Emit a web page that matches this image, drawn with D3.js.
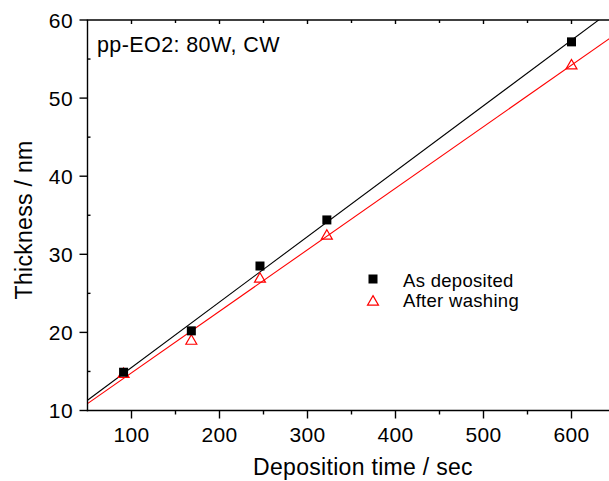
<!DOCTYPE html>
<html>
<head>
<meta charset="utf-8">
<script src="https://cdn.jsdelivr.net/npm/d3@7"></script>
<style>
  html, body { margin: 0; padding: 0; background: #fff; }
  svg { display: block; font-family: "Liberation Sans", Arial, sans-serif; }
  .tick-label { font-size: 21px; letter-spacing: 0.4px; fill: #000; }
  .axis-title { font-size: 23px; letter-spacing: 0.3px; fill: #000; }
  .legend-text { font-size: 18.5px; letter-spacing: 0.3px; fill: #000; }
</style>
</head>
<body>
<svg id="chart" width="609" height="481"></svg>
<script>
// data
const times = [91, 168, 246, 322, 600];
const asDeposited = [14.9, 20.2, 28.5, 34.4, 57.2];
const afterWashing = [14.7, 18.95, 26.9, 32.4, 54.2];
const xTicks = [100, 200, 300, 400, 500, 600];
const yTicks = [10, 20, 30, 40, 50, 60];
const xMinor = [150, 250, 350, 450, 550];
const yMinor = [15, 25, 35, 45, 55];
const seriesNames = ['As deposited', 'After washing'];
const label = 'pp-EO2: 80W, CW';

const svg = d3.select('#chart');
const plotLeft = 87.5, plotTop = 20, plotBottom = 410.5;
const x = d3.scaleLinear().domain([50, 650]).range([plotLeft, plotLeft + 600 * 0.88]);
const y = d3.scaleLinear().domain([10, 60]).range([plotBottom, plotTop]);
const plotRight = x(650);

// least-squares fit, as the original linear fits
function fit(xs, ys) {
  const mx = d3.mean(xs), my = d3.mean(ys);
  let sxy = 0, sxx = 0;
  xs.forEach((v, i) => { sxy += (v - mx) * (ys[i] - my); sxx += (v - mx) ** 2; });
  const slope = sxy / sxx;
  return { slope, icpt: my - slope * mx };
}

svg.append('clipPath').attr('id', 'plot-clip')
  .append('rect').attr('x', plotLeft).attr('y', plotTop)
  .attr('width', plotRight - plotLeft).attr('height', plotBottom - plotTop);

const plot = svg.append('g').attr('clip-path', 'url(#plot-clip)');

[[asDeposited, '#000'], [afterWashing, '#ff0000']].forEach(([vals, color]) => {
  const f = fit(times, vals);
  plot.append('line')
    .attr('x1', x(50)).attr('y1', y(f.icpt + f.slope * 50))
    .attr('x2', x(650)).attr('y2', y(f.icpt + f.slope * 650))
    .attr('stroke', color).attr('stroke-width', 1.1);
});

const tri = d3.symbol().type(d3.symbolTriangle).size(52);

// markers
svg.append('g').selectAll('path')
  .data(times.map((t, i) => [t, afterWashing[i]]))
  .join('path')
  .attr('d', tri)
  .attr('transform', (d) => `translate(${x(d[0])},${y(d[1]) + 0.5})`)
  .attr('fill', 'none').attr('stroke', '#ff0000').attr('stroke-width', 1.2);

svg.append('g').selectAll('rect')
  .data(times.map((t, i) => [t, asDeposited[i]]))
  .join('rect')
  .attr('x', (d) => x(d[0]) - 4.5).attr('y', (d) => y(d[1]) - 4.5)
  .attr('width', 9).attr('height', 9).attr('fill', '#000');

// axes
const ax = svg.append('g').attr('stroke', '#000').attr('stroke-width', 1.4);
ax.append('line').attr('x1', plotLeft).attr('x2', plotLeft).attr('y1', plotTop).attr('y2', plotBottom + 0.7);
ax.append('line').attr('x1', plotLeft - 0.7).attr('x2', plotRight).attr('y1', plotBottom).attr('y2', plotBottom);
ax.append('line').attr('x1', plotLeft - 0.7).attr('x2', plotRight).attr('y1', plotTop).attr('y2', plotTop);

xTicks.forEach((v) => {
  ax.append('line').attr('x1', x(v)).attr('x2', x(v)).attr('y1', plotBottom).attr('y2', plotBottom + 8);
  ax.append('line').attr('x1', x(v)).attr('x2', x(v)).attr('y1', plotTop).attr('y2', plotTop + 4);
});
xMinor.forEach((v) => {
  ax.append('line').attr('x1', x(v)).attr('x2', x(v)).attr('y1', plotBottom).attr('y2', plotBottom + 4);
  ax.append('line').attr('x1', x(v)).attr('x2', x(v)).attr('y1', plotTop).attr('y2', plotTop + 3);
});
yTicks.forEach((v) => {
  ax.append('line').attr('x1', plotLeft - 8).attr('x2', plotLeft).attr('y1', y(v)).attr('y2', y(v));
});
yMinor.forEach((v) => {
  ax.append('line').attr('x1', plotLeft).attr('x2', plotLeft + 3).attr('y1', y(v)).attr('y2', y(v));
});

svg.append('g').selectAll('text').data(xTicks).join('text')
  .attr('class', 'tick-label')
  .attr('x', (d) => x(d)).attr('y', 441.5)
  .attr('text-anchor', 'middle').text((d) => d);

svg.append('g').selectAll('text').data(yTicks).join('text')
  .attr('class', 'tick-label')
  .attr('x', 73).attr('y', (d) => y(d) + 7.5)
  .attr('text-anchor', 'end').text((d) => d);

svg.append('text').attr('class', 'axis-title')
  .attr('x', 363).attr('y', 475).attr('text-anchor', 'middle')
  .text('Deposition time / sec');

svg.append('text').attr('class', 'axis-title')
  .attr('transform', 'translate(32,220) rotate(-90)')
  .attr('text-anchor', 'middle')
  .text('Thickness / nm');

svg.append('text').attr('class', 'axis-title')
  .style('font-size', '21.5px').style('letter-spacing', '0.4px')
  .attr('x', 97).attr('y', 52)
  .text(label);

// legend
const lg = svg.append('g');
lg.append('rect').attr('x', 373 - 4.5).attr('y', 279 - 4.5).attr('width', 9).attr('height', 9).attr('fill', '#000');
lg.append('path').attr('d', tri).attr('transform', 'translate(373,302)')
  .attr('fill', 'none').attr('stroke', '#ff0000').attr('stroke-width', 1.2);
lg.selectAll('text').data(seriesNames).join('text')
  .attr('class', 'legend-text')
  .attr('x', 403).attr('y', (d, i) => 286.5 + i * 20)
  .text((d) => d);
</script>
</body>
</html>
